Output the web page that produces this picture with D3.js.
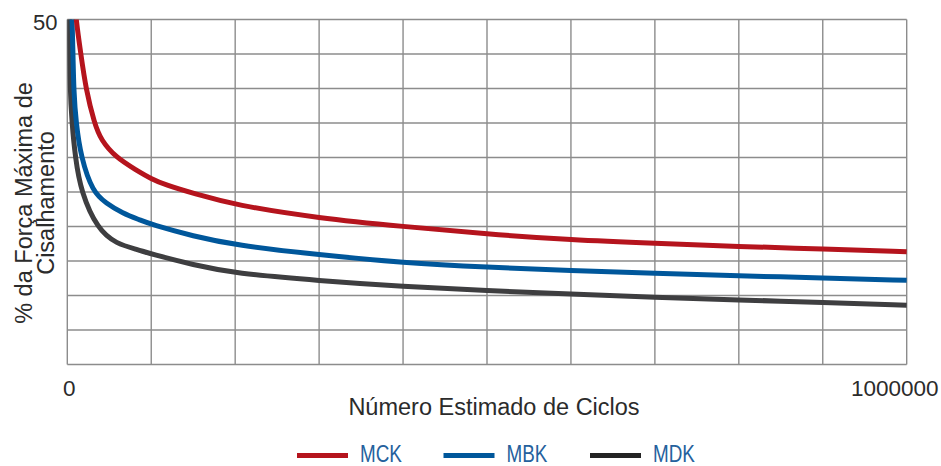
<!DOCTYPE html>
<html lang="pt">
<head>
    <meta charset="UTF-8">
    <title>Fadiga ao cisalhamento</title>
    <script src="https://d3js.org/d3.v7.min.js"></script>
    <style>
        body {
            margin: 0;
            background: #fff;
            font-family: "Liberation Sans", Arial, sans-serif;
        }
        .grid line {
            stroke: #8c8c8c;
            stroke-width: 1.4px;
        }
        .curve {
            fill: none;
            stroke-width: 5px;
        }
        .lbl {
            fill: #2b2b2b;
        }
        .leg text {
            fill: #25619d;
            font-size: 23px;
        }
    </style>
</head>
<body>
<svg width="941" height="466"></svg>
<script>
    // ciclos estimados vs % da forca maxima
    const cycles = {
        MCK: [7400, 10400, 16000, 22300, 32200, 40200, 58000, 81800, 100000, 117600, 150000, 200000,
              300000, 400000, 500000, 600000, 700000, 800000, 900000, 1000000],
        MBK: [4800, 5600, 6800, 7600, 10400, 16300, 30300, 46100, 66000, 86600, 100000, 150000, 200000,
              300000, 400000, 500000, 600000, 700000, 800000, 900000, 1000000],
        MDK: [2000, 2400, 3200, 5600, 9500, 16300, 36200, 58000, 85400, 100000, 150000, 200000,
              300000, 400000, 500000, 600000, 700000, 800000, 900000, 1000000]
    };
    const mck = [54.3, 50, 45.1, 39.8, 35.0, 32.5, 30.0, 28.2, 26.9, 26.0, 24.8, 23.1,
                 21.2, 20.0, 18.9, 18.05, 17.55, 17.1, 16.75, 16.35];
    const mbk = [55, 50, 45.1, 39.8, 35.0, 30.0, 25.0, 23.4, 21.9, 20.95, 20.3, 18.6, 17.3,
                 15.9, 14.75, 14.1, 13.6, 13.2, 12.85, 12.55, 12.2];
    const mdk = [55, 50, 39.8, 35.0, 30.0, 25.0, 19.6, 17.5, 16.6, 16.0, 14.45, 13.2,
                 12.15, 11.3, 10.7, 10.2, 9.75, 9.35, 9.0, 8.6];

    const series = [
        { name: "MCK", values: mck, color: "#b5141d", legendColor: "#b5141d" },
        { name: "MBK", values: mbk, color: "#00579b", legendColor: "#00579b" },
        { name: "MDK", values: mdk, color: "#3e3e40", legendColor: "#232323" }
    ];

    const xTicks = d3.range(0, 1000001, 100000);
    const yTicks = d3.range(0, 51, 5);

    const svg = d3.select("svg");
    const mLeft = 67.3, mRight = 906.7, mTop = 19.5, mBottom = 364.5;

    const x = d3.scaleLinear().domain([0, 1000000]).range([mLeft, mRight]);
    const y = d3.scaleLinear().domain([0, 50]).range([mBottom, mTop]);

    // grade
    const grid = svg.append("g").attr("class", "grid");
    grid.selectAll("line.v").data(xTicks).enter().append("line")
        .attr("class", "v")
        .attr("x1", d => x(d)).attr("x2", d => x(d))
        .attr("y1", mTop).attr("y2", mBottom);
    grid.selectAll("line.h").data(yTicks).enter().append("line")
        .attr("class", "h")
        .attr("x1", mLeft).attr("x2", mRight)
        .attr("y1", d => y(d)).attr("y2", d => y(d));

    svg.append("clipPath").attr("id", "clip")
        .append("rect")
        .attr("x", mLeft).attr("y", mTop)
        .attr("width", mRight - mLeft + 3).attr("height", mBottom - mTop);

    // curvas suavizadas
    const line = d3.line()
        .x(d => x(d[0]))
        .y(d => y(d[1]))
        .curve(d3.curveBasis);

    svg.append("g").attr("clip-path", "url(#clip)")
        .selectAll("path")
        .data(series.slice().reverse())
        .enter().append("path")
        .attr("class", "curve")
        .attr("stroke", d => d.color)
        .attr("d", d => line(cycles[d.name].map((c, i) => [c, d.values[i]])));

    // rotulos dos eixos
    svg.append("text").attr("class", "lbl")
        .attr("x", 57.5).attr("y", 30)
        .attr("text-anchor", "end")
        .style("font-size", "22px")
        .text("50");
    svg.append("text").attr("class", "lbl")
        .attr("x", x(0) + 2).attr("y", 395.5)
        .attr("text-anchor", "middle")
        .style("font-size", "22.5px")
        .text("0");
    svg.append("text").attr("class", "lbl")
        .attr("x", 938.5).attr("y", 395.5)
        .attr("text-anchor", "end")
        .style("font-size", "22.5px")
        .text("1000000");

    svg.append("text").attr("class", "lbl")
        .attr("x", 494).attr("y", 415)
        .attr("text-anchor", "middle")
        .style("font-size", "23.5px")
        .text("Número Estimado de Ciclos");

    const yTitle = svg.append("text").attr("class", "lbl")
        .attr("transform", "translate(32,203) rotate(-90)")
        .attr("text-anchor", "middle")
        .style("font-size", "23.5px");
    yTitle.append("tspan").attr("x", 0).attr("y", 0).text("% da Força Máxima de");
    yTitle.append("tspan").attr("x", 0).attr("y", 21.5).text("Cisalhamento");

    // legenda
    const leg = svg.append("g").attr("class", "leg")
        .selectAll("g").data(series).enter().append("g")
        .attr("transform", (d, i) => `translate(${297 + i * 146.5},455.5)`);
    leg.append("line")
        .attr("x1", 0).attr("x2", 51)
        .attr("stroke", d => d.legendColor)
        .attr("stroke-width", 5);
    leg.append("text")
        .attr("transform", "translate(63,6.5) scale(0.82,1)")
        .text(d => d.name);
</script>
</body>
</html>
